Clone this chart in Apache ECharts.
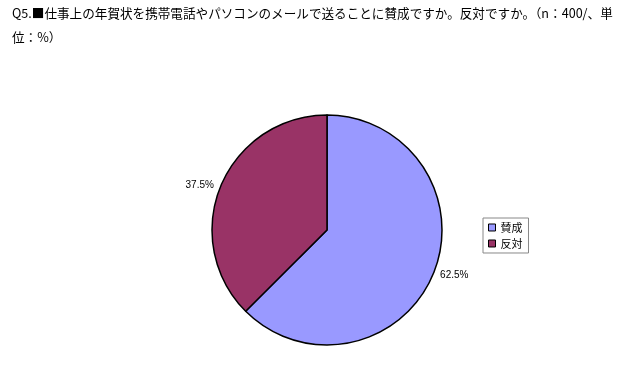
<!DOCTYPE html>
<html>
<head>
<meta charset="utf-8">
<script src="https://cdn.jsdelivr.net/npm/echarts@6/dist/echarts.min.js"></script>
<style>
html, body { margin: 0; padding: 0; background: #fff; }
#main { width: 640px; height: 375px; }
</style>
</head>
<body>
<div id="main"></div>
<script type="text/javascript">
// データ
var categories = ['賛成', '反対'];
var values = [62.5, 37.5];
var colors = ['#9999FF', '#993366'];
var labelPads = [[10, 0, 0, 0], [6, 0, 0, 0]];

var chart = echarts.init(document.getElementById('main'));
chart.setOption({
	backgroundColor: '#fff',
	animation: false,
	title: {
		text: 'Q5.■仕事上の年賀状を携帯電話やパソコンのメールで送ることに賛成ですか。反対ですか。（n：400/、単\n位：%）',
		left: 7,
		top: -4,
		textStyle: {
			fontFamily: 'Noto Sans CJK JP',
			fontSize: 12.6,
			fontWeight: 'normal',
			color: '#000',
			lineHeight: 24
		}
	},
	legend: {
		orient: 'vertical',
		left: 483,
		top: 218,
		padding: [4, 6, 4, 5],
		borderColor: '#888',
		borderWidth: 1,
		itemWidth: 7,
		itemHeight: 7,
		itemGap: 5,
		icon: 'rect',
		itemStyle: { borderColor: '#000', borderWidth: 1 },
		textStyle: { fontFamily: 'Noto Sans CJK JP', fontSize: 11, color: '#000' },
		data: categories
	},
	series: [{
		type: 'pie',
		center: [327, 230],
		radius: 115,
		startAngle: 90,
		clockwise: true,
		itemStyle: { borderColor: '#000', borderWidth: 1.5 },
		label: {
			show: true,
			position: 'outside',
			formatter: '{c}%',
			fontFamily: 'Liberation Sans',
			fontSize: 10,
			color: '#000'
		},
		labelLine: { show: false, length: 2, length2: 0 },
		emphasis: { disabled: true },
		data: categories.map(function (name, i) {
			return {
				name: name,
				value: values[i],
				itemStyle: { color: colors[i] },
				label: { padding: labelPads[i] }
			};
		})
	}]
});
</script>
</body>
</html>
